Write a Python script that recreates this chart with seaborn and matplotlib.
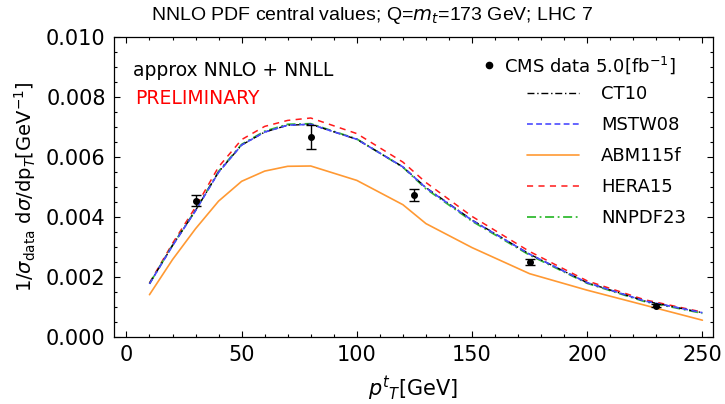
import numpy as np
import pandas as pd
import matplotlib
matplotlib.use("Agg")
import matplotlib.pyplot as plt
import seaborn as sns
from matplotlib.ticker import MultipleLocator, FormatStrFormatter
from matplotlib.lines import Line2D

# ---- data ----
pt = [10, 20, 30, 40, 50, 60, 70, 80, 100, 120, 130, 150, 175, 200, 225, 250]
ct10 = [0.00178, 0.00305, 0.00422, 0.00550, 0.00640, 0.00683, 0.00706, 0.00709,
        0.00659, 0.00567, 0.00498, 0.00390, 0.00276, 0.00181, 0.00120, 0.00081]
mstw08 = [0.00177, 0.00304, 0.00421, 0.00549, 0.00640, 0.00683, 0.00706, 0.00709,
          0.00659, 0.00567, 0.00497, 0.00389, 0.00276, 0.00181, 0.00120, 0.00081]
abm115f = [0.00141, 0.00258, 0.00361, 0.00453, 0.00519, 0.00553, 0.00569, 0.00570,
           0.00522, 0.00441, 0.00378, 0.00298, 0.00211, 0.00156, 0.00106, 0.00056]
hera15 = [0.00180, 0.00312, 0.00433, 0.00567, 0.00658, 0.00702, 0.00722, 0.00730,
          0.00678, 0.00583, 0.00515, 0.00402, 0.00285, 0.00187, 0.00124, 0.00083]
nnpdf23 = [0.00178, 0.00306, 0.00423, 0.00552, 0.00642, 0.00686, 0.00709, 0.00711,
           0.00660, 0.00566, 0.00494, 0.00386, 0.00273, 0.00179, 0.00118, 0.00079]

cms_pt = [30, 80, 125, 175, 230]
cms_val = [0.00455, 0.00667, 0.00474, 0.00250, 0.00105]
cms_err = [0.00020, 0.00040, 0.00020, 0.00010, 0.00006]

series_names = ["CT10", "MSTW08", "ABM115f", "HERA15", "NNPDF23"]
series_vals = [ct10, mstw08, abm115f, hera15, nnpdf23]
colors = ["#000000", "#4a4aff", "#ff9933", "#ff1a1a", "#33bb33"]
dashes = [(5, 2, 1, 2), (3.5, 2.0), None, (4, 3.5), (5, 2, 1, 2)]
widths = [1.0, 1.2, 1.2, 1.1, 1.3]
zorders = [3, 4, 2, 2, 2.5]

sns.set_style("ticks")
plt.rcParams['font.family'] = ['DejaVu Sans']
plt.rcParams['mathtext.fontset'] = 'dejavusans'
for k in ['text.color', 'axes.labelcolor', 'xtick.color', 'ytick.color', 'axes.edgecolor']:
    plt.rcParams[k] = 'black'

fig = plt.figure(figsize=(7.25, 4.04), dpi=100)
ax = fig.add_axes([114/725, 1-337/404, (713-114)/725, (337-37)/404])

handles = []
for name, vals, c, d, w, z in zip(series_names, series_vals, colors, dashes, widths, zorders):
    df = pd.DataFrame({"pt": pt, "val": vals})
    sns.lineplot(data=df, x="pt", y="val", ax=ax, color=c, lw=w, legend=False, zorder=z)
    ln = ax.get_lines()[-1]
    if d is not None:
        ln.set_dashes(d)
    h = Line2D([], [], color=c, lw=w)
    if d is not None:
        h.set_dashes(d)
    handles.append(h)

ax.errorbar(cms_pt, cms_val, yerr=cms_err, fmt="o", color="black", ms=4,
            capsize=3.5, elinewidth=1.0, capthick=1.0, zorder=10)

ax.set_xlim(-5.4, 254.6)
ax.set_ylim(0, 0.010)
ax.xaxis.set_major_locator(MultipleLocator(50))
ax.xaxis.set_minor_locator(MultipleLocator(10))
ax.yaxis.set_major_locator(MultipleLocator(0.002))
ax.yaxis.set_minor_locator(MultipleLocator(0.0005))
ax.yaxis.set_major_formatter(FormatStrFormatter('%.3f'))
ax.tick_params(which='both', direction='in', top=True, right=True, labelsize=15, width=0.8)
ax.tick_params(which='major', length=4.5, pad=6)
ax.tick_params(which='minor', length=2.5)
for s in ax.spines.values():
    s.set_linewidth(0.9)

ax.set_xlabel(r"$p^{t}{}_{T}$[GeV]", fontsize=15, labelpad=6)
ax.set_ylabel(r"1/$\sigma_{\mathrm{data}}$ d$\sigma$/dp$_{T}$[GeV$^{-1}$]", fontsize=14, labelpad=6)
fig.text(372/725, 1-15/404, r"NNLO PDF central values; Q=$m_t$=173 GeV; LHC 7",
         fontsize=14, ha='center', va='center',
         family=['Liberation Sans', 'DejaVu Sans'])

ax.text(133/725, 1-70/404, "approx NNLO + NNLL", transform=fig.transFigure,
        fontsize=13.5, va='center', ha='left', color='black')
ax.text(135/725, 1-98/404, "PRELIMINARY", transform=fig.transFigure,
        fontsize=13.5, va='center', ha='left', color='#ff0000')

data_handle = Line2D([], [], color='black', marker='o', ms=4.5, lw=0)
leg1 = ax.legend([data_handle], [r"CMS data 5.0[fb$^{-1}$]"], loc='center left',
                 bbox_to_anchor=(484/725, 1-65/404), bbox_transform=fig.transFigure,
                 frameon=False, fontsize=13, handlelength=0.6, handletextpad=0.5,
                 borderpad=0, borderaxespad=0)
ax.add_artist(leg1)
ax.legend(handles, series_names, loc='upper left',
          bbox_to_anchor=(527/725, 1-85/404), bbox_transform=fig.transFigure,
          frameon=False, fontsize=13, handlelength=2.9, handletextpad=1.2,
          labelspacing=0.72, borderpad=0, borderaxespad=0)

fig.savefig("out.png", dpi=100)
